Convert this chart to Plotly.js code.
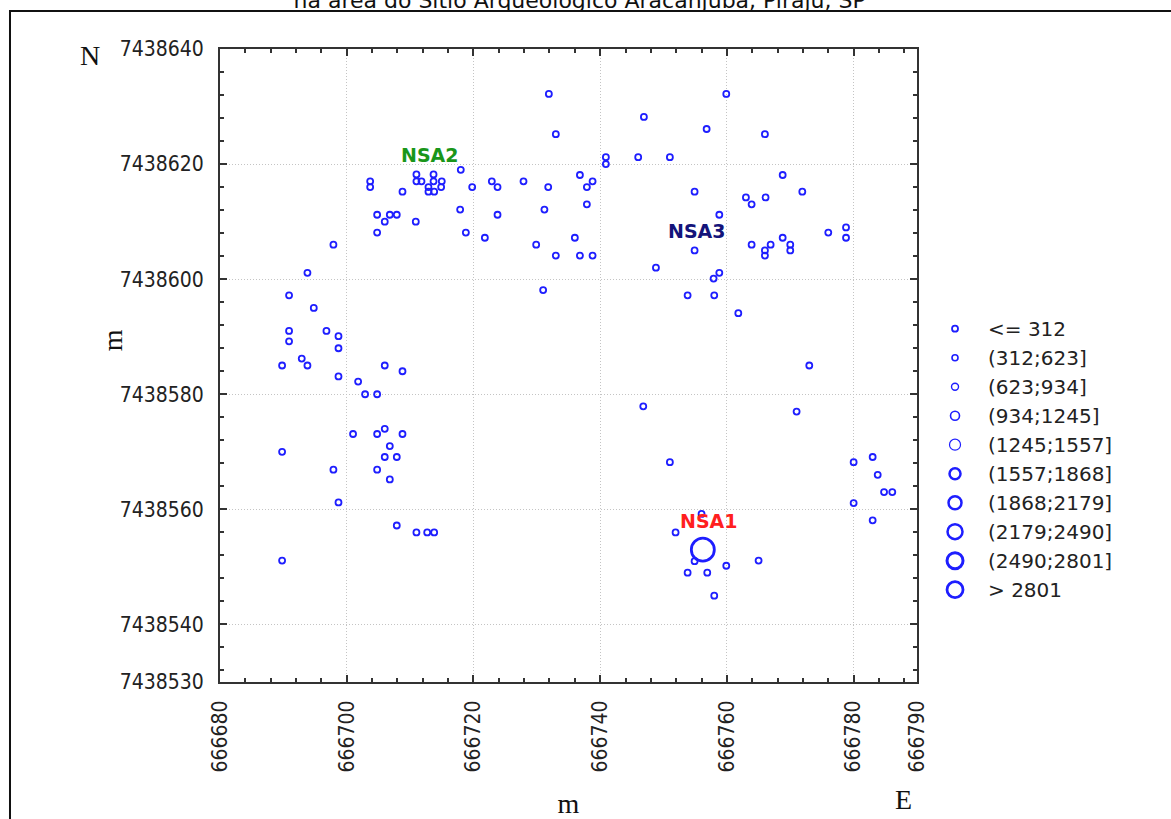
<!DOCTYPE html>
<html>
<head>
<meta charset="utf-8">
<script src="https://cdn.plot.ly/plotly-3.0.1.min.js"></script>
<style>html,body{margin:0;padding:0;background:#fff;}#chart{width:1171px;height:819px;}</style>
</head>
<body>
<div id="chart"></div>
<script>
// ---- Data ----
var pointX = [
  666718.0, 666711.0, 666713.7, 666711.0, 666711.8, 666713.7, 666715.0, 666712.9, 666714.9, 666712.9,
  666713.8, 666703.7, 666703.7, 666708.8, 666719.8, 666722.9, 666723.8, 666704.8, 666706.8, 666707.9,
  666706.0, 666710.9, 666704.8, 666717.9, 666718.8, 666721.8, 666723.8, 666697.9, 666693.8,
  666731.9, 666733.0, 666759.9, 666746.9, 666756.8, 666766.0, 666740.9, 666740.9, 666746.0, 666751.0,
  666727.9, 666731.8, 666736.8, 666738.8, 666737.9, 666731.2, 666737.9, 666736.0, 666729.9, 666733.0,
  666736.8, 666738.8, 666731.0, 666754.9, 666758.8, 666754.9, 666748.8, 666758.8, 666757.9, 666753.8,
  666758.0, 666761.8, 666768.8, 666771.9, 666763.0, 666763.9, 666766.1, 666763.9, 666766.0, 666766.0,
  666766.9, 666768.8, 666770.0, 666770.0, 666776.0, 666778.8, 666778.8, 666773.0,
  666746.8, 666771.0, 666751.0, 666780.0, 666783.0, 666783.8, 666784.8, 666786.1, 666780.0, 666783.0,
  666756.0, 666751.9, 666753.8, 666756.9, 666759.9, 666765.0, 666758.0, 666754.9, 666756.2,
  666690.9, 666694.8, 666690.9, 666690.9, 666696.8, 666698.7, 666698.7, 666692.9, 666689.8, 666693.8,
  666698.7, 666706.0, 666708.8, 666701.8, 666702.9, 666704.8, 666701.0, 666704.8, 666706.0, 666708.8,
  666706.8, 666689.8, 666706.0, 666707.9, 666697.9, 666704.8, 666706.8, 666698.7, 666707.9, 666711.0,
  666712.7, 666713.8, 666689.8
];
var pointY = [
  7438619.0, 7438618.2, 7438618.2, 7438617.0, 7438617.0, 7438617.0, 7438617.0, 7438616.0, 7438616.0, 7438615.2,
  7438615.2, 7438617.0, 7438616.0, 7438615.2, 7438616.0, 7438617.0, 7438616.0, 7438611.2, 7438611.2, 7438611.2,
  7438610.0, 7438610.0, 7438608.1, 7438612.1, 7438608.1, 7438607.2, 7438611.2, 7438606.0, 7438601.1,
  7438632.2, 7438625.2, 7438632.2, 7438628.2, 7438626.1, 7438625.2, 7438621.2, 7438620.0, 7438621.2, 7438621.2,
  7438617.0, 7438616.0, 7438618.1, 7438617.0, 7438616.0, 7438612.1, 7438613.0, 7438607.2, 7438606.0, 7438604.1,
  7438604.1, 7438604.1, 7438598.1, 7438615.2, 7438611.2, 7438605.0, 7438602.0, 7438601.1, 7438600.1, 7438597.2,
  7438597.2, 7438594.1, 7438618.1, 7438615.2, 7438614.2, 7438613.0, 7438614.2, 7438606.0, 7438605.0, 7438604.1,
  7438606.0, 7438607.2, 7438606.0, 7438605.0, 7438608.1, 7438609.0, 7438607.2, 7438585.0,
  7438577.9, 7438577.0, 7438568.2, 7438568.2, 7438569.1, 7438566.0, 7438563.0, 7438563.0, 7438561.1, 7438558.1,
  7438559.2, 7438556.0, 7438549.0, 7438549.0, 7438550.2, 7438551.1, 7438545.0, 7438551.0, 7438553.0,
  7438597.2, 7438595.0, 7438591.0, 7438589.2, 7438591.0, 7438590.1, 7438588.0, 7438586.2, 7438585.0, 7438585.0,
  7438583.1, 7438585.0, 7438584.0, 7438582.2, 7438580.0, 7438580.0, 7438573.1, 7438573.1, 7438574.0, 7438573.1,
  7438571.0, 7438570.0, 7438569.1, 7438569.1, 7438566.9, 7438566.9, 7438565.2, 7438561.2, 7438557.2, 7438556.0,
  7438556.0, 7438556.0, 7438551.1
];
// class index (0..9) of each point's value
var pointClass = pointX.map(function (v, i) { return (i === 95) ? 9 : 0; });

var classLabels = ['<= 312', '(312;623]', '(623;934]', '(934;1245]', '(1245;1557]',
                   '(1557;1868]', '(1868;2179]', '(2179;2490]', '(2490;2801]', '> 2801'];

var xTickVals = [666680, 666700, 666720, 666740, 666760, 666780, 666790];
var xTickText = ['666680', '666700', '666720', '666740', '666760', '666780', '666790'];
var yTickVals = [7438530, 7438540, 7438560, 7438580, 7438600, 7438620, 7438640];
var yTickText = ['7438530', '7438540', '7438560', '7438580', '7438600', '7438620', '7438640'];

var siteLabels = ['NSA2', 'NSA3', 'NSA1'];
var siteX = [666713.1, 666755.3, 666757.2];
var siteY = [7438621.6, 7438608.4, 7438557.9];

// ---- Styles ----
var markerSizes = [6, 6, 7, 9, 11, 11, 13, 15, 17, 23];
var markerLineW = [1.8, 1.6, 1.4, 1.6, 1.2, 2.5, 2.5, 2.5, 3, 2.8];
var siteColors = ['#1a961a', '#14147a', '#ff1f1f'];
var blue = 'rgb(30,30,255)';
var tickFontFamily = 'DejaVu Sans Condensed, Liberation Sans Narrow, sans-serif';
var serif = 'Liberation Serif, DejaVu Serif, serif';

var traces = classLabels.map(function (lab, c) {
  var xs = [], ys = [];
  for (var i = 0; i < pointX.length; i++) {
    if (pointClass[i] === c) { xs.push(pointX[i]); ys.push(pointY[i]); }
  }
  if (xs.length === 0) { xs = [null]; ys = [null]; }
  return {
    type: 'scatter', mode: 'markers', name: lab, x: xs, y: ys,
    marker: { symbol: 'circle-open', size: markerSizes[c], color: blue,
              line: { width: markerLineW[c], color: blue } },
    hoverinfo: 'x+y+name'
  };
});

var minorX = [], minorY = [];
for (var v = 666680; v <= 666790; v += 4) minorX.push(v);
for (var w = 7438640; w >= 7438530; w -= 4) minorY.push(w);

var annotations = siteLabels.map(function (t, i) {
  return { text: '<b>' + t + '</b>', x: siteX[i], y: siteY[i], xref: 'x', yref: 'y',
           xanchor: 'center', yanchor: 'middle',
           showarrow: false, font: { family: 'DejaVu Sans', size: 19, color: siteColors[i] } };
});
annotations.push({ text: 'N', xref: 'paper', yref: 'paper', x: -0.1865, y: 0.9905,
  xanchor: 'center', yanchor: 'middle', showarrow: false,
  font: { family: serif, size: 28, color: '#111' } });
annotations.push({ text: 'E', xref: 'paper', yref: 'paper', x: 0.98, y: -0.186,
  xanchor: 'center', yanchor: 'middle', showarrow: false,
  font: { family: serif, size: 28, color: '#111' } });
annotations.push({ text: 'm', xref: 'paper', yref: 'paper', x: -0.155, y: 0.540, textangle: -90,
  xanchor: 'center', yanchor: 'middle', showarrow: false,
  font: { family: serif, size: 28, color: '#111' } });

var axisCommon = {
  tickmode: 'array', ticks: 'inside', ticklen: 7, tickwidth: 1.5, tickcolor: '#333',
  showline: true, linecolor: '#333', linewidth: 2, mirror: 'allticks',
  showgrid: true, gridcolor: '#c4c4c4', griddash: '1px,2px', gridwidth: 1,
  zeroline: false, automargin: false,
  tickfont: { family: tickFontFamily, size: 21, color: '#222' }
};

var layout = {
  width: 1171, height: 819,
  margin: { l: 220, r: 254, t: 49, b: 137 },
  paper_bgcolor: '#ffffff', plot_bgcolor: '#ffffff',
  showlegend: true,
  title: { text: 'na área do Sítio Arqueológico Aracanjuba, Piraju, SP',
           xref: 'container', yref: 'container', x: 0.495, y: 1, yanchor: 'middle',
           font: { family: 'DejaVu Sans', size: 22, color: '#111' } },
  xaxis: Object.assign({}, axisCommon, {
    range: [666680, 666790], tickvals: xTickVals, ticktext: xTickText, tickangle: -90,
    ticklabelstandoff: 8,
    minor: { tickmode: 'array', tickvals: minorX, ticks: 'inside', ticklen: 4, tickcolor: '#333', showgrid: false },
    title: { text: 'm', standoff: 30, font: { family: serif, size: 28, color: '#111' } }
  }),
  yaxis: Object.assign({}, axisCommon, {
    range: [7438530, 7438640], tickvals: yTickVals, ticktext: yTickText,
    ticklabelstandoff: 10,
    minor: { tickmode: 'array', tickvals: minorY, ticks: 'inside', ticklen: 4, tickcolor: '#333', showgrid: false }
  }),
  legend: { x: 1.0072, xanchor: 'left', y: 0.352, yanchor: 'middle', bgcolor: 'rgba(0,0,0,0)',
            font: { family: 'DejaVu Sans, sans-serif', size: 20, color: '#222' },
            itemsizing: 'trace', itemwidth: 56, tracegroupgap: 0 },
  annotations: annotations,
  shapes: [
    { type: 'rect', xref: 'paper', yref: 'paper', x0: -0.3013, x1: 1.38, y0: -0.25, y1: 1.06,
      line: { color: '#111', width: 2 }, fillcolor: 'rgba(0,0,0,0)', layer: 'above' }
  ]
};

Plotly.newPlot('chart', traces, layout, { displayModeBar: false, staticPlot: false });
</script>
</body>
</html>
